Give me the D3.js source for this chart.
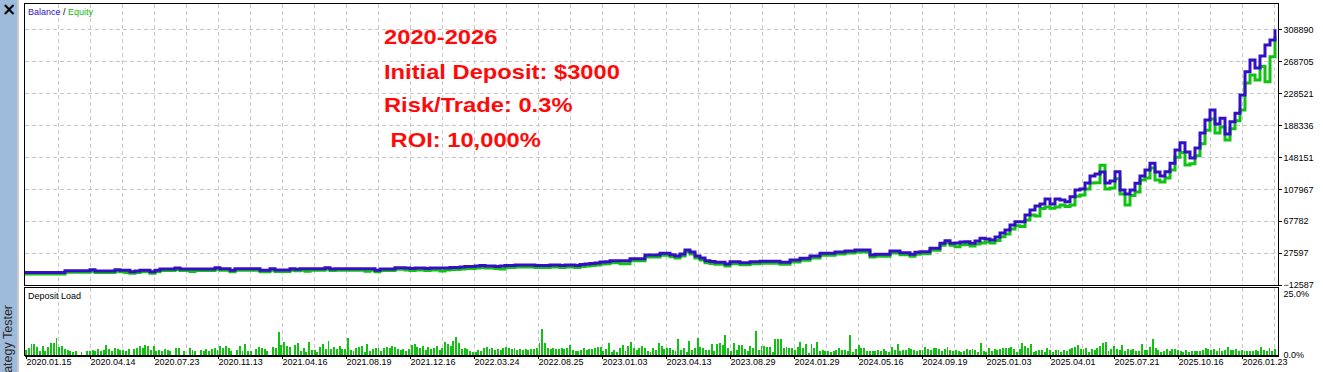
<!DOCTYPE html>
<html>
<head>
<meta charset="utf-8">
<style>
  body { margin: 0; background: #fff; }
  svg text { font-family: "Liberation Sans", Arial, sans-serif; }
  .grid line { stroke: #c9c9c9; stroke-dasharray: 4,3; shape-rendering: crispEdges; }
  .axis text { font-size: 9px; fill: #000; }
  .axis line { stroke: #000; shape-rendering: crispEdges; }
  .frame { fill: none; stroke: #000; shape-rendering: crispEdges; }
</style>
<script src="https://d3js.org/d3.v7.min.js"></script>
</head>
<body>
<script>

// balance after each group of trades ($)
var balance = [
  3000,3000,3000,3000,3000,3000,3000,3000,5400,5400,
  5400,5400,5400,6600,5000,5000,5000,5000,6600,5900,
  5900,4100,5000,5900,5900,4100,5900,7500,7500,7500,
  8800,7500,7500,7500,7500,7500,7500,7500,9200,7900,
  7900,5900,7900,7900,7900,7900,7900,5900,5900,7900,
  6300,6300,6300,7900,7200,7900,7900,7900,7900,7900,
  9200,7500,7900,7900,7900,7900,7900,7900,7900,7900,
  5900,7500,7500,7500,9200,9200,8800,8200,8800,8800,
  8200,8800,8800,8800,8800,9400,9400,10000,10700,10700,
  11300,11900,11300,11300,10700,11300,11900,11900,12600,12600,
  12600,12600,11900,11900,11900,12600,12600,11900,12600,12600,
  11900,13200,13800,14400,15100,16300,16700,18000,18000,18000,
  18000,20500,20500,20500,25100,25100,25100,27300,27300,25500,
  23900,26400,31400,28900,23900,21400,18000,17000,16000,16000,
  13800,16700,16700,15400,15400,16700,16700,17200,17200,17200,
  17200,16000,16000,18800,18800,21000,21000,23900,23900,27300,
  27300,27300,28900,28900,30200,30200,31400,31400,31400,25100,
  26000,26000,26000,30200,30200,28000,28000,26000,28500,29300,
  29300,33600,33600,39800,43100,39800,40200,41500,41900,39800,
  42700,46100,45200,44000,47800,52800,56600,62800,67000,67000,
  75400,81700,86700,89200,95500,89200,95500,94300,92100,98400,
  106800,108100,115600,124400,127000,129500,115600,118200,129900,106800,
  101800,106800,115300,124400,132000,140400,129500,124400,129900,140400,
  157100,166300,154600,147100,159600,178500,194900,207400,189800,197000,
  177300,192700,203300,226300,255600,270300,260200,275300,289100,295400,
  308900
];

// equity at the same points ($)
var equity = [
  1100,1100,1100,1100,1100,1100,1100,1100,3500,3500,
  3500,3500,3500,4700,3100,3100,3100,3100,4700,4000,
  3000,2200,3100,4000,4000,2200,4000,5600,5600,5600,
  6900,5600,5600,4400,5600,5600,5600,5600,7300,6000,
  6000,4000,6000,6000,6000,6000,6000,4000,4000,6000,
  4400,4400,4400,6000,5300,6000,4700,6000,6000,6000,
  7300,5600,6000,6000,6000,6000,6000,6000,4700,6000,
  4000,5600,5600,5600,7300,7300,6300,5700,6300,6300,
  5700,6300,6300,5000,6300,6900,6900,7500,8200,8200,
  8800,9400,8800,8800,8200,7600,9400,9400,10100,10100,
  10100,10100,9400,9400,9400,10100,10100,9400,10100,10100,
  9400,10700,11300,11900,12600,13800,14200,15500,15500,14200,
  14200,18000,18000,18000,22600,22600,22600,24800,24800,23000,
  21400,23900,28900,26400,21400,18900,15500,14500,13500,13500,
  11300,14200,14200,12900,12900,14200,14200,14700,14700,14700,
  14700,13500,13500,16300,16300,18500,18500,21400,21400,24800,
  24800,24800,26400,26400,27700,27700,28900,28900,28900,22600,
  23500,23500,23500,27700,27700,25500,25500,23500,26000,26800,
  26800,31100,31100,37300,40600,37300,35600,38000,38400,36300,
  39000,40200,41500,40200,43500,48000,51500,57800,62000,61000,
  69000,75400,74200,83500,85500,84000,85500,88000,86000,88000,
  99000,100600,108000,115600,116000,138000,108000,109400,121000,101800,
  88000,100000,104300,119400,122000,134500,119400,117000,122000,132000,
  148000,154000,138300,140000,150000,165000,182000,196000,178500,186000,
  169700,184000,194000,207400,241400,251400,245100,262000,243000,274400,
  300000
];

// deposit load per trade (%)
var depositLoad = [
  // 2020 - 2021.04
  1.9,2.5,4.1,4.1,3.2,1.6,3.5,1.6,3.2,4.4,4.7,6.3,3.2,3.5,2.3,1.9,1.5,1.3,1.6,0,
  1.3,0,1.6,1.6,1.9,1.5,2.2,1.5,1.9,3.8,2.3,1.6,2.5,2.2,1.9,1.9,1.5,2.3,0,2.3,
  2.5,3.5,2.5,3.8,3.5,1.9,3.5,1.6,1.9,1.5,2.2,1.9,1.5,0,2.5,2.5,0,1.6,0,2.5,
  1.9,1.6,0,1.9,1.6,2.2,1.6,2.2,2.5,1.9,3.4,2.5,3.5,2.5,1.5,0,1.9,3.5,1.6,4.2,
  1.5,1.6,0,2.2,3.2,2.5,2.2,1.6,0,3.2,2.5,8.6,3.8,4.8,3.4,3.2,0,3.8,4.4,1.6,
  2.5,1.3,5.1,
  // 2021.04 - 2023.04
  1.9,1.9,1.3,2.9,4.2,2.3,5.4,2.2,3.2,2.3,3.5,2.3,2.3,6.6,1.9,1.5,2.8,3.2,3.5,1.3,
  4.1,1.6,2.3,2.5,2.5,1.6,2.5,2.9,2.8,3.5,2.9,2.2,1.9,2.3,1.6,2.3,3.8,4.1,2.9,2.5,
  3.5,1.9,3.2,2.3,2.8,3.5,1.9,2.5,4.8,4.2,3.5,5.4,7.0,4.7,2.3,2.8,2.3,1.6,1.0,1.3,
  1.9,1.6,2.5,2.9,2.3,2.8,1.9,2.3,1.9,2.5,3.2,2.5,2.3,2.5,1.9,2.3,1.9,2.3,1.9,2.2,
  2.3,2.8,4.7,9.9,4.4,2.5,2.3,2.5,2.2,2.3,2.8,2.3,2.5,3.8,1.9,1.6,1.5,1.9,2.5,1.9,
  2.3,2.3,2.5,2.9,3.2,1.6,2.2,4.7,1.3,1.9,1.3,2.5,3.8,1.6,3.5,5.1,2.5,1.9,2.5,3.5,
  2.5,1.6,1.3,2.8,1.9,4.4,3.5,2.2,2.5,2.5,1.9,1.5,6.1,1.9,2.8,1.3,5.4,1.9,2.8,6.6,
  // 2023.04 - 2025.10
  2.9,2.5,1.9,1.9,4.1,1.5,4.2,4.4,3.8,7.6,2.8,1.5,4.7,1.9,3.8,3.8,2.2,1.6,3.4,2.5,
  9.1,1.9,3.4,3.4,2.9,2.9,1.3,6.1,6.1,6.1,2.5,2.9,2.8,2.8,1.9,2.9,4.8,2.5,4.2,0.9,
  4.2,2.5,4.8,1.5,1.9,1.6,1.5,1.3,1.5,1.9,2.5,1.9,1.9,1.6,7.6,1.3,2.3,3.8,2.5,2.5,
  1.5,1.5,1.6,1.5,1.9,1.6,2.2,1.6,1.3,2.9,1.9,4.2,1.6,1.9,1.9,2.5,2.2,1.9,1.5,1.9,
  1.9,3.2,2.3,1.9,2.5,2.5,2.3,1.5,2.3,2.9,1.9,1.5,1.9,1.6,1.3,1.5,2.2,1.9,2.2,1.9,
  1.3,4.7,1.6,1.3,2.5,1.6,2.2,1.9,2.3,2.5,2.8,2.8,2.9,2.2,1.3,2.2,4.7,3.5,2.5,4.2,
  1.0,1.6,1.9,1.9,1.3,2.5,1.9,1.3,1.9,1.9,1.0,1.9,1.6,2.2,2.5,2.9,3.8,2.2,2.2,2.5,
  1.3,2.2,1.9,2.8,3.4,4.7,5.1,1.5,2.2,3.5,2.3,1.9,3.8,1.6,2.3,1.9,2.2,1.5,1.6,4.2,
  1.9,1.9,3.2,6.1,2.5,1.9,1.3,1.5,2.3,1.5,2.3,2.2,1.9,1.6,1.3,1.9,1.3,1.6,1.6,1.5,
  1.5,
  // 2025.10 - 2026.01
  1.9,2.5,2.2,1.9,2.3,1.5,2.5,1.5,1.9,3.2,1.9,1.9,2.2,1.5,1.9,1.6,1.5,1.5,1.6,1.9,
  1.6,3.2,1.9,1.5,2.8,1.6,2.3
];

var yTicks = [-12587, 27597, 67782, 107967, 148151, 188336, 228521, 268705, 308890];
var loadTicks = [0, 25];
var dateLabels = ["2020.01.15","2020.04.14","2020.07.23","2020.11.13","2021.04.16",
  "2021.08.19","2021.12.16","2022.03.24","2022.08.25","2023.01.03","2023.04.13",
  "2023.08.29","2024.01.29","2024.05.16","2024.09.19","2025.01.03","2025.04.01",
  "2025.07.21","2025.10.16","2026.01.23"];
var notes = ["2020-2026", "Initial Deposit: $3000", "Risk/Trade: 0.3%", " ROI: 10,000%"];

var W = 1323, H = 372;
var plot = {left: 24.5, right: 1278.5, top: 3.5, mainBottom: 285.5, subTop: 287.5, subBottom: 355};

var svg = d3.select("body").append("svg")
  .attr("width", W)
  .attr("height", H);

// left tool strip
svg.append("rect").attr("x", 0).attr("y", 0).attr("width", 17).attr("height", H).attr("fill", "#9fbbdb");
svg.append("rect").attr("x", 17).attr("y", 0).attr("width", 2).attr("height", H).attr("fill", "#c9c9c9");
svg.append("text")
  .attr("x", 9).attr("y", 15)
  .attr("text-anchor", "middle")
  .style("font-family", "DejaVu Sans")
  .style("font-size", "17px")
  .style("font-weight", "bold")
  .text("×");
svg.append("text")
  .attr("transform", "translate(12,305) rotate(-90)")
  .attr("text-anchor", "end")
  .style("font-size", "12.5px")
  .attr("fill", "#2a2a2a")
  .text("Strategy Tester");

// scales
var x = d3.scaleLinear().domain([0, balance.length - 1]).range([25, 1275]);
var y = d3.scaleLinear().domain([-12587, 341958]).range([285, 3]);
var xDate = d3.scalePoint().domain(dateLabels).range([25.5, 1241.5]);
var xLoad = d3.scaleBand().domain(d3.range(depositLoad.length)).range([25, 1276]).paddingInner(0.3);
var yLoad = d3.scaleLinear().domain([0, 25]).range([355, 289]);

// vertical grid positions: every label plus half way between
var gridX = [];
dateLabels.forEach(function(d) {
  gridX.push(xDate(d));
  gridX.push(xDate(d) + xDate.step() / 2);
});
gridX = gridX.filter(function(v) { return v > 26 && v < 1278; });

var grid = svg.append("g").attr("class", "grid");
grid.selectAll("line.vm")
  .data(gridX).enter().append("line")
  .attr("x1", function(d) { return Math.round(d) + 0.5; })
  .attr("x2", function(d) { return Math.round(d) + 0.5; })
  .attr("y1", plot.top).attr("y2", plot.mainBottom);
grid.selectAll("line.vs")
  .data(gridX).enter().append("line")
  .attr("x1", function(d) { return Math.round(d) + 0.5; })
  .attr("x2", function(d) { return Math.round(d) + 0.5; })
  .attr("y1", plot.subTop).attr("y2", plot.subBottom);
grid.selectAll("line.h")
  .data(yTicks.slice(1)).enter().append("line")
  .attr("x1", plot.left).attr("x2", plot.right)
  .attr("y1", function(d) { return Math.round(y(d)) + 0.5; })
  .attr("y2", function(d) { return Math.round(y(d)) + 0.5; });

// clip for the curves
svg.append("clipPath").attr("id", "mainClip")
  .append("rect").attr("x", 25).attr("y", 4).attr("width", 1253).attr("height", 281);

var line = d3.line()
  .x(function(d, i) { return x(i); })
  .y(function(d) { return y(d); })
  .curve(d3.curveStepAfter);

svg.append("path")
  .datum(equity)
  .attr("clip-path", "url(#mainClip)")
  .attr("fill", "none")
  .attr("stroke", "#12c212")
  .attr("stroke-width", 3)
  .attr("d", line);

svg.append("path")
  .datum(balance)
  .attr("clip-path", "url(#mainClip)")
  .attr("fill", "none")
  .attr("stroke", "#3410c4")
  .attr("stroke-width", 3)
  .attr("d", line);

// deposit load bars
svg.selectAll("rect.load")
  .data(depositLoad).enter().append("rect")
  .attr("class", "load")
  .attr("x", function(d, i) { return xLoad(i); })
  .attr("width", xLoad.bandwidth())
  .attr("y", function(d) { return yLoad(d); })
  .attr("height", function(d) { return yLoad(0) - yLoad(d); })
  .attr("fill", "#12c212")
  .style("shape-rendering", "crispEdges");

// frames
svg.append("rect").attr("class", "frame")
  .attr("x", plot.left).attr("y", plot.top)
  .attr("width", plot.right - plot.left).attr("height", plot.mainBottom - plot.top);
svg.append("rect").attr("class", "frame")
  .attr("x", plot.left).attr("y", plot.subTop)
  .attr("width", plot.right - plot.left).attr("height", plot.subBottom - plot.subTop);
svg.append("line")
  .attr("x1", plot.left).attr("x2", plot.right + 0.5)
  .attr("y1", 355.5).attr("y2", 355.5)
  .attr("stroke", "#000").attr("stroke-width", 2)
  .style("shape-rendering", "crispEdges");

// right axes
svg.append("g")
  .attr("class", "axis")
  .attr("transform", "translate(" + plot.right + ",0)")
  .call(d3.axisRight(y).tickValues(yTicks).tickSize(3).tickPadding(2).tickFormat(d3.format("d")))
  .call(function(g) { g.select(".domain").remove(); });

var loadAxis = svg.append("g")
  .attr("class", "axis")
  .attr("transform", "translate(" + plot.right + ",0)")
  .call(d3.axisRight(yLoad).tickValues(loadTicks).tickSize(0).tickPadding(5)
    .tickFormat(function(d) { return d.toFixed(1) + "%"; }));
loadAxis.select(".domain").remove();
loadAxis.selectAll(".tick").filter(function(d) { return d === 25; })
  .select("text").attr("y", 5);

// date axis
svg.append("g")
  .attr("class", "axis")
  .attr("transform", "translate(0,356)")
  .call(d3.axisBottom(xDate).tickSize(3).tickPadding(0))
  .call(function(g) {
    g.select(".domain").remove();
    g.selectAll("text").attr("text-anchor", "start").attr("x", 0.5);
  });

// legends
var leg = svg.append("text")
  .attr("x", 28).attr("y", 15)
  .style("font-size", "9px");
leg.append("tspan").attr("fill", "#3410c4").text("Balance");
leg.append("tspan").attr("fill", "#000").text(" / ");
leg.append("tspan").attr("fill", "#12b812").text("Equity");

svg.append("text")
  .attr("x", 28).attr("y", 299)
  .style("font-size", "9px")
  .text("Deposit Load");

// red notes
var noteY = [44.3, 79, 111.7, 146.7];
svg.selectAll("text.note")
  .data(notes).enter().append("text")
  .attr("class", "note")
  .attr("transform", function(d, i) { return "translate(384," + noteY[i] + ") scale(1.13,1)"; })
  .style("font-size", "21px")
  .style("font-weight", "bold")
  .style("white-space", "pre")
  .attr("fill", "#ff0a0a")
  .text(function(d) { return d; });

</script>
</body>
</html>
